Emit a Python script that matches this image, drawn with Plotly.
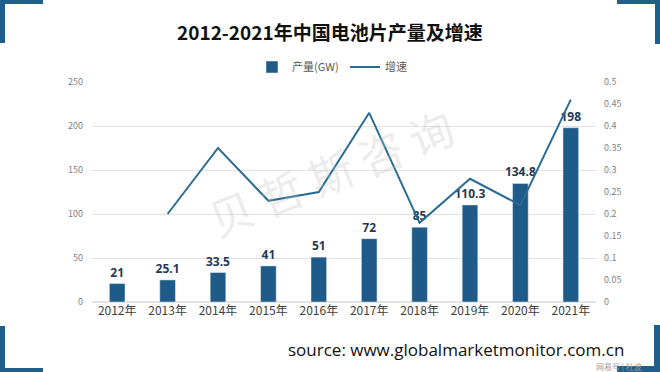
import plotly.graph_objects as go

years = ["2012年", "2013年", "2014年", "2015年", "2016年", "2017年", "2018年", "2019年", "2020年", "2021年"]
output_gw = [21, 25.1, 33.5, 41, 51, 72, 85, 110.3, 134.8, 198]
growth = [None, 0.20, 0.35, 0.23, 0.25, 0.43, 0.18, 0.28, 0.22, 0.46]
output_labels = ["21", "25.1", "33.5", "41", "51", "72", "85", "110.3", "134.8", "198"]
left_ticks = [0, 50, 100, 150, 200, 250]
right_ticks = [0, 0.05, 0.1, 0.15, 0.2, 0.25, 0.3, 0.35, 0.4, 0.45, 0.5]

BAR = "#1e5b88"
LINE = "#2b6d92"
FONT = "Noto Sans CJK SC"

L, R, T, B = 92, 64, 82, 70
PW, PH = 660 - L - R, 372 - T - B

fig = go.Figure()
fig.add_trace(go.Bar(
    x=years, y=output_gw, name="产量(GW)", marker_color=BAR, width=0.31,
    text=output_labels, textposition="outside", cliponaxis=False,
    constraintext="none", textangle=0,
    textfont=dict(family="Open Sans", size=12, color="#1f3a55", weight="bold"),
))
fig.add_trace(go.Scatter(
    x=years, y=growth, name="增速", mode="lines", yaxis="y2",
    line=dict(color=LINE, width=2),
))

def px_x(x):
    return (x - L) / PW

def px_y(y):
    return (372 - B - y) / PH

fig.update_layout(
    width=660, height=372,
    paper_bgcolor="white", plot_bgcolor="white",
    margin=dict(l=L, r=R, t=T, b=B),
    font=dict(family=FONT, color="#595959"),
    showlegend=True,
    legend=dict(orientation="h", x=px_x(345), xanchor="center", y=px_y(67),
                yref="paper", yanchor="middle", font=dict(size=11, color="#595959"),
                entrywidth=48, bgcolor="rgba(0,0,0,0)"),
    xaxis=dict(range=[-0.5, 9.5], showgrid=False, showline=False, ticks="",
               tickfont=dict(size=12, color="#404040"), fixedrange=True),
    yaxis=dict(range=[0, 250], tickvals=left_ticks, showgrid=True, gridcolor="#e3e3e3",
               gridwidth=1, zeroline=True, zerolinecolor="#e3e3e3", showline=False,
               tickfont=dict(size=9, color="#7f7f7f"), ticklabelstandoff=8),
    yaxis2=dict(range=[0, 0.5], tickvals=right_ticks, overlaying="y", side="right",
                showgrid=False, zeroline=False, showline=False,
                tickfont=dict(size=9, color="#7f7f7f"), ticklabelstandoff=7),
)

# title
fig.add_annotation(text="<b>2012-2021年中国电池片产量及增速</b>", xref="paper", yref="paper",
                   x=px_x(330), xanchor="center", y=px_y(32), yanchor="middle", showarrow=False,
                   font=dict(family=FONT, size=19, color="#111111"))

# watermark
fig.add_annotation(text="贝 哲 斯 咨 询", xref="paper", yref="paper", x=px_x(330), y=px_y(172),
                   showarrow=False, textangle=-22,
                   font=dict(family=FONT, size=44, color="rgba(190,190,190,0.30)"))

# source
fig.add_annotation(text="source: www.globalmarketmonitor.com.cn", xref="paper", yref="paper",
                   x=px_x(626), xanchor="right", y=px_y(349), yanchor="middle", showarrow=False,
                   font=dict(family="Open Sans", size=17, color="#111111"))
fig.add_annotation(text="网易号 | 杜波", xref="paper", yref="paper",
                   x=px_x(644), xanchor="right", y=px_y(366), yanchor="middle", showarrow=False,
                   font=dict(family=FONT, size=8, color="#9a9a9a"))

# corner brackets
def rect(x0, y0, x1, y1):
    fig.add_shape(type="rect", xref="paper", yref="paper",
                  x0=px_x(x0), x1=px_x(x1), y0=px_y(y0), y1=px_y(y1),
                  fillcolor="#1f5f8b", line_width=0, layer="above")

rect(0, 0, 43, 4)
rect(0, 0, 5, 43)
rect(617, 0, 660, 4)
rect(655, 0, 660, 44)
rect(0, 326, 5, 372)
rect(0, 368, 43, 372)
rect(654, 325, 660, 372)
rect(617, 366, 660, 372)

fig.write_html("out.html", config={"displayModeBar": False},
               post_script="document.body.style.margin='0';document.body.style.overflow='hidden';")
